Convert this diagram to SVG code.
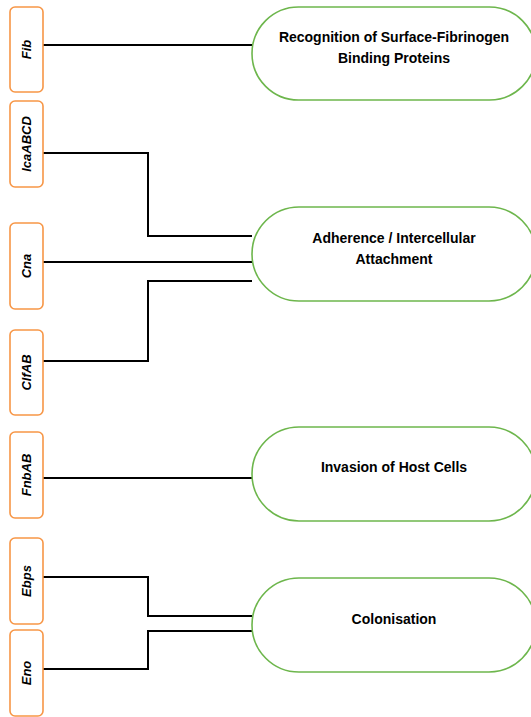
<svg xmlns="http://www.w3.org/2000/svg" width="531" height="717" viewBox="0 0 531 717">
<style>
.gene{fill:#fff;stroke:#F79646;stroke-width:1.6}
.gl{font-family:"Liberation Sans",Arial,sans-serif;font-weight:bold;font-style:italic;font-size:13px;fill:#000;text-anchor:middle}
.pill{fill:#fff;stroke:#6DB64C;stroke-width:1.6}
.pl{font-family:"Liberation Sans",Arial,sans-serif;font-weight:bold;font-size:14px;fill:#000;text-anchor:middle}
.conn{fill:none;stroke:#000;stroke-width:2}
</style>
<rect width="531" height="717" fill="#fff"/>
<g id="connectors">
<path class="conn" d="M43,45 H252"/>
<path class="conn" d="M43,153 H148 V236 H252"/>
<path class="conn" d="M43,262 H252"/>
<path class="conn" d="M43,361 H148 V281 H252"/>
<path class="conn" d="M43,478 H252"/>
<path class="conn" d="M43,577 H148 V616 H252"/>
<path class="conn" d="M43,669 H148 V631 H252"/>
</g>
<g id="fib"><rect class="gene" x="10" y="7" width="33" height="85" rx="5"/><text class="gl" transform="translate(31,49.5) rotate(-90)">Fib</text></g>
<g id="icaabcd"><rect class="gene" x="10" y="101" width="33" height="86" rx="5"/><text class="gl" transform="translate(31,144) rotate(-90)">IcaABCD</text></g>
<g id="cna"><rect class="gene" x="10" y="223" width="33" height="86" rx="5"/><text class="gl" transform="translate(31,266) rotate(-90)">Cna</text></g>
<g id="clfab"><rect class="gene" x="10" y="330" width="33" height="85" rx="5"/><text class="gl" transform="translate(31,372.5) rotate(-90)">ClfAB</text></g>
<g id="fnbab"><rect class="gene" x="10" y="432" width="33" height="86" rx="5"/><text class="gl" transform="translate(31,475) rotate(-90)">FnbAB</text></g>
<g id="ebps"><rect class="gene" x="10" y="538" width="33" height="86" rx="5"/><text class="gl" transform="translate(31,581) rotate(-90)">Ebps</text></g>
<g id="eno"><rect class="gene" x="10" y="630" width="33" height="86" rx="5"/><text class="gl" transform="translate(31,673) rotate(-90)">Eno</text></g>
<g id="recognition"><rect class="pill" x="252" y="7" width="284" height="93" rx="46.5"/><text class="pl" x="394" y="42">Recognition of Surface-Fibrinogen</text><text class="pl" x="394" y="63">Binding Proteins</text></g>
<g id="adherence"><rect class="pill" x="252" y="207" width="284" height="94" rx="47"/><text class="pl" x="394" y="243">Adherence / Intercellular</text><text class="pl" x="394" y="264">Attachment</text></g>
<g id="invasion"><rect class="pill" x="252" y="427" width="284" height="94" rx="47"/><text class="pl" x="394" y="472">Invasion of Host Cells</text></g>
<g id="colonisation"><rect class="pill" x="252" y="578" width="284" height="94" rx="47"/><text class="pl" x="394" y="624">Colonisation</text></g>
</svg>
